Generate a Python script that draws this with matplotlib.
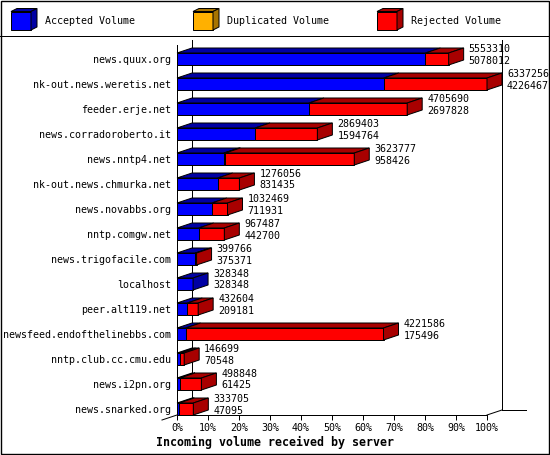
import matplotlib
matplotlib.use("Agg")
import matplotlib.pyplot as plt
from matplotlib.patches import Polygon, Rectangle

# data
servers = ["news.quux.org", "nk-out.news.weretis.net", "feeder.erje.net",
           "news.corradoroberto.it", "news.nntp4.net", "nk-out.news.chmurka.net",
           "news.novabbs.org", "nntp.comgw.net", "news.trigofacile.com",
           "localhost", "peer.alt119.net", "newsfeed.endofthelinebbs.com",
           "nntp.club.cc.cmu.edu", "news.i2pn.org", "news.snarked.org"]
total_volume = [5553310, 6337256, 4705690, 2869403, 3623777, 1276056, 1032469,
                967487, 399766, 328348, 432604, 4221586, 146699, 498848, 333705]
accepted_volume = [5078012, 4226467, 2697828, 1594764, 958426, 831435, 711931,
                   442700, 375371, 328348, 209181, 175496, 70548, 61425, 47095]
duplicated_volume = [0, 0, 0, 0, 30000, 0, 0, 0, 0, 0, 0, 0, 0, 0, 0]
pct_ticks = list(range(0, 101, 10))
legend_labels = ["Accepted Volume", "Duplicated Volume", "Rejected Volume"]

FRONT = ["#0000ff", "#ffb000", "#ff0000"]
SHADE = ["#0000a4", "#a87400", "#a80000"]
MONO = "DejaVu Sans Mono"
LW = 0.72

W, H = 550, 455
fig = plt.figure(figsize=(W / 100, H / 100), dpi=100)
fig.patch.set_facecolor("white")

# background axes in pixel units for the frame and legend strip
bg = fig.add_axes([0, 0, 1, 1])
bg.set_xlim(0, W)
bg.set_ylim(H, 0)
bg.axis("off")
bg.add_patch(Rectangle((0.5, 0.5), W - 1.5, H - 1.5, fill=False,
                       edgecolor="black", linewidth=1.0))
bg.plot([0, W], [35.5, 35.5], color="black", lw=LW)

# main axes: 0..100 % across, one row per server
ax = fig.add_axes([177 / W, (H - 415) / H, 310 / W, 370 / H])
ax.set_xlim(0, 100)
ax.set_ylim(14.24, -0.56)
ax.set_facecolor("none")
for s in ("top", "right"):
    ax.spines[s].set_visible(False)
for s in ("left", "bottom"):
    ax.spines[s].set_linewidth(LW)

# depth of the 3d effect, 15 px right and 5 px up, in data units
px_x = 310 / 100.0
px_y = 25.0
ddx = 15 / px_x
ddy = 5 / px_y
bh = 12 / px_y

vmax = max(total_volume)
ybot, ytop = ax.get_ylim()

# back wall and floor edges
kw = dict(color="black", lw=LW, clip_on=False, zorder=1)
ax.plot([ddx, ddx], [ytop - ddy, ybot - ddy], **kw)
ax.plot([100 + ddx, 100 + ddx], [ytop - ddy, ybot - ddy], **kw)
ax.plot([-ddx, ddx], [ybot + ddy, ybot - ddy], **kw)
ax.plot([100, 100 + ddx], [ybot, ybot - ddy], **kw)
ax.plot([100 + ddx, 100 + ddx + 24 / px_x], [ybot - ddy, ybot - ddy], **kw)

for i in range(len(servers)):
    acc = accepted_volume[i]
    dup = duplicated_volume[i]
    rej = total_volume[i] - acc - dup
    segs = [acc, dup, rej]
    left = 0.0
    top = i - bh / 2
    for k, v in enumerate(segs):
        w = v / vmax * 100
        if w <= 0:
            continue
        ax.barh(i, w, left=left, height=bh, color=FRONT[k], edgecolor="black",
                linewidth=LW, zorder=3, clip_on=False)
        ax.add_patch(Polygon([(left, top), (left + w, top),
                              (left + w + ddx, top - ddy), (left + ddx, top - ddy)],
                             closed=True, facecolor=SHADE[k], edgecolor="black",
                             linewidth=LW, zorder=3, clip_on=False))
        last = k
        left += w
    ax.add_patch(Polygon([(left, top), (left + ddx, top - ddy),
                          (left + ddx, top + bh - ddy), (left, top + bh)],
                         closed=True, facecolor=SHADE[last], edgecolor="black",
                         linewidth=LW, zorder=3, clip_on=False))
    tx = left + ddx + 5 / px_x
    ax.text(tx, i - 0.40, str(total_volume[i]), ha="left", va="center",
            family=MONO, fontsize=7.2, zorder=4)
    ax.text(tx, i + 0.06, str(acc), ha="left", va="center",
            family=MONO, fontsize=7.2, zorder=4)

ax.set_yticks(range(len(servers)))
ax.set_yticklabels(servers, family=MONO, fontsize=7.2)
ax.tick_params(axis="y", length=0, pad=4.5)
ax.set_xticks(pct_ticks)
ax.set_xticklabels([f"{t}%" for t in pct_ticks], family=MONO, fontsize=7.2)
ax.tick_params(axis="x", length=3.6, width=LW, pad=2.5)

fig.text(0.5, 1 - 442 / H, "Incoming volume received by server", ha="center",
         va="center", family=MONO, fontweight="bold", fontsize=8.4)

# legend boxes, drawn on the pixel-unit background axes
box_x = [11, 193, 377]
for k, label in enumerate(legend_labels):
    x0 = box_x[k]
    bg.add_patch(Rectangle((x0, 11.5), 20, 18.5, facecolor=FRONT[k],
                           edgecolor="black", linewidth=LW))
    bg.add_patch(Polygon([(x0, 11.5), (x0 + 20, 11.5), (x0 + 26, 8.5), (x0 + 6, 8.5)],
                         closed=True, facecolor=SHADE[k], edgecolor="black", linewidth=LW))
    bg.add_patch(Polygon([(x0 + 20, 11.5), (x0 + 26, 8.5), (x0 + 26, 27), (x0 + 20, 30)],
                         closed=True, facecolor=SHADE[k], edgecolor="black", linewidth=LW))
    bg.text(x0 + 34, 21, label, ha="left", va="center", family=MONO, fontsize=7.2)

fig.savefig("out.png", dpi=100, facecolor="white")
